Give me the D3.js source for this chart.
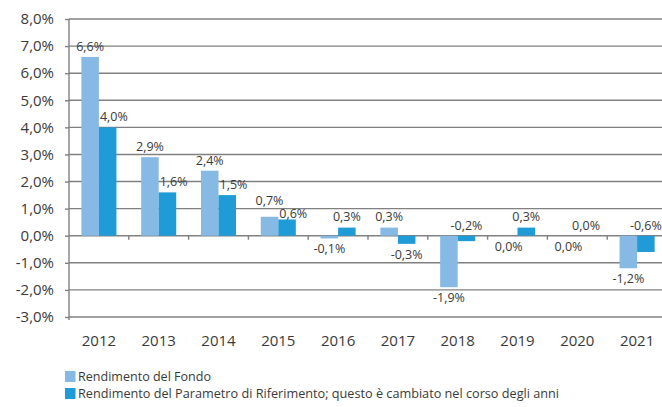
<!DOCTYPE html>
<html>
<head>
<meta charset="utf-8">
<script src="https://cdn.jsdelivr.net/npm/d3@7"></script>
<style>
  html, body { margin: 0; padding: 0; background: #fff; }
  svg { display: block; font-family: "Open Sans", "Noto Sans", sans-serif; }
</style>
</head>
<body>
<svg id="chart" width="662" height="407"></svg>
<script>
const years = ["2012","2013","2014","2015","2016","2017","2018","2019","2020","2021"];
const fondo = [6.6, 2.9, 2.4, 0.7, -0.1, 0.3, -1.9, 0.0, 0.0, -1.2];
const parametro = [4.0, 1.6, 1.5, 0.6, 0.3, -0.3, -0.2, 0.3, 0.0, -0.6];
const seriesNames = ["Rendimento del Fondo", "Rendimento del Parametro di Riferimento; questo è cambiato nel corso degli anni"];
const yTicks = [8, 7, 6, 5, 4, 3, 2, 1, 0, -1, -2, -3];

const colors = ["#86B9E4", "#1F9BD7"];
const textColor = "#3a3a3a";
const gridColor = "#808080";

const svg = d3.select("#chart");
const mLeft = 69, mRight = 667, mTop = 19, mBottom = 317;

const y = d3.scaleLinear().domain([8, -3]).range([mTop, mBottom]);
const xCat = d3.scaleBand().domain(years).range([mLeft, mRight]).padding(0);
const groupPad = 0.207;
const xSub = d3.scaleBand().domain([0, 1]).range([xCat.bandwidth() * groupPad, xCat.bandwidth() * (1 - groupPad)]);

const fmt = v => d3.format(".1f")(v).replace(".", ",").replace("−", "-") + "%";

// gridlines
svg.append("g").selectAll("line").data(yTicks).join("line")
  .attr("x1", mLeft).attr("x2", 662)
  .attr("y1", d => y(d)).attr("y2", d => y(d))
  .attr("stroke", gridColor).attr("stroke-width", 1.4);

// y axis
const yAxis = d3.axisLeft(y).tickValues(yTicks).tickSize(4).tickPadding(11).tickFormat(fmt);
const ga = svg.append("g").attr("transform", `translate(${mLeft},0)`).call(yAxis);
ga.select(".domain").attr("stroke", gridColor).attr("stroke-width", 1.4).attr("d", `M0,${mTop}V${mBottom + 3}`);
ga.selectAll(".tick line").attr("stroke", gridColor).attr("stroke-width", 1.4);
ga.selectAll(".tick text").attr("fill", textColor).style("font-size", "15px").style("font-family", "Open Sans");

// bars
const data = [];
years.forEach((yr, i) => {
  data.push({ yr, s: 0, v: fondo[i] });
  data.push({ yr, s: 1, v: parametro[i] });
});
svg.append("g").selectAll("rect").data(data).join("rect")
  .attr("x", d => xCat(d.yr) + xSub(d.s))
  .attr("width", xSub.bandwidth())
  .attr("y", d => y(Math.max(0, d.v)))
  .attr("height", d => Math.abs(y(d.v) - y(0)))
  .attr("fill", d => colors[d.s]);

// category ticks at boundaries on the zero line
svg.append("g").selectAll("line").data(years.slice(1)).join("line")
  .attr("x1", d => xCat(d)).attr("x2", d => xCat(d))
  .attr("y1", y(0)).attr("y2", y(0) + 4)
  .attr("stroke", gridColor).attr("stroke-width", 1.4);

// x labels
svg.append("g").selectAll("text").data(years).join("text")
  .attr("x", d => xCat(d) + xCat.bandwidth() / 2)
  .attr("y", 341)
  .attr("text-anchor", "middle")
  .attr("dy", "0.35em")
  .attr("fill", textColor)
  .style("font-size", "15px")
  .text(d => d);

// data labels
const aboveOverride = new Set(["2018-1", "2021-1"]);
function isAbove(d) {
  if (aboveOverride.has(d.yr + "-" + d.s)) return true;
  if (d.v > 0) return true;
  if (d.v < 0) return false;
  return d.s === 1;
}
data.forEach(d => {
  d.above = isAbove(d);
  d.ly = d.above ? y(Math.max(0, d.v)) - 10.5 : y(Math.min(0, d.v)) + 10.5;
  d.lx = xCat(d.yr) + xSub(d.s) + xSub.bandwidth() / 2;
});
// simple collision avoidance within each year group
for (let i = 0; i < data.length; i += 2) {
  const a = data[i], b = data[i + 1];
  if (a.above && b.above && Math.abs(a.ly - b.ly) < 13) {
    const lower = a.ly > b.ly ? a : b, upper = lower === a ? b : a;
    lower.ly = y(Math.max(0, lower.v)) - 6;
    upper.ly = lower.ly - 13;
  }
}
const labels = svg.append("g").selectAll("text").data(data).join("text")
  .attr("x", d => d.lx)
  .attr("y", d => d.ly)
  .attr("dy", "0.35em")
  .attr("text-anchor", "middle")
  .attr("fill", textColor)
  .style("font-size", "12.5px")
  .text(d => fmt(d.v));
// shift Param labels right if they would sit over a taller Fondo bar
labels.each(function(d, i) {
  if (d.s !== 1 || !d.above) return;
  const f = data[i - 1];
  if (f.v > 0 && y(f.v) < d.ly + 5) {
    const w = this.getComputedTextLength();
    const fRight = xCat(f.yr) + xSub(0) + xSub.bandwidth();
    const nx = Math.max(d.lx, fRight + w / 2 + 1);
    d3.select(this).attr("x", nx);
  }
});

// legend
const legY = [376.5, 393.5];
const legW = [133, 481];
const lg = svg.append("g");
seriesNames.forEach((name, i) => {
  lg.append("rect").attr("x", 65).attr("y", legY[i] - 5.5).attr("width", 10.5).attr("height", 11).attr("fill", colors[i]);
  lg.append("text").attr("x", 78).attr("y", legY[i]).attr("dy", "0.35em")
    .attr("fill", textColor).style("font-size", "13.5px")
    .attr("textLength", legW[i]).attr("lengthAdjust", "spacingAndGlyphs")
    .text(name);
});
</script>
</body>
</html>
